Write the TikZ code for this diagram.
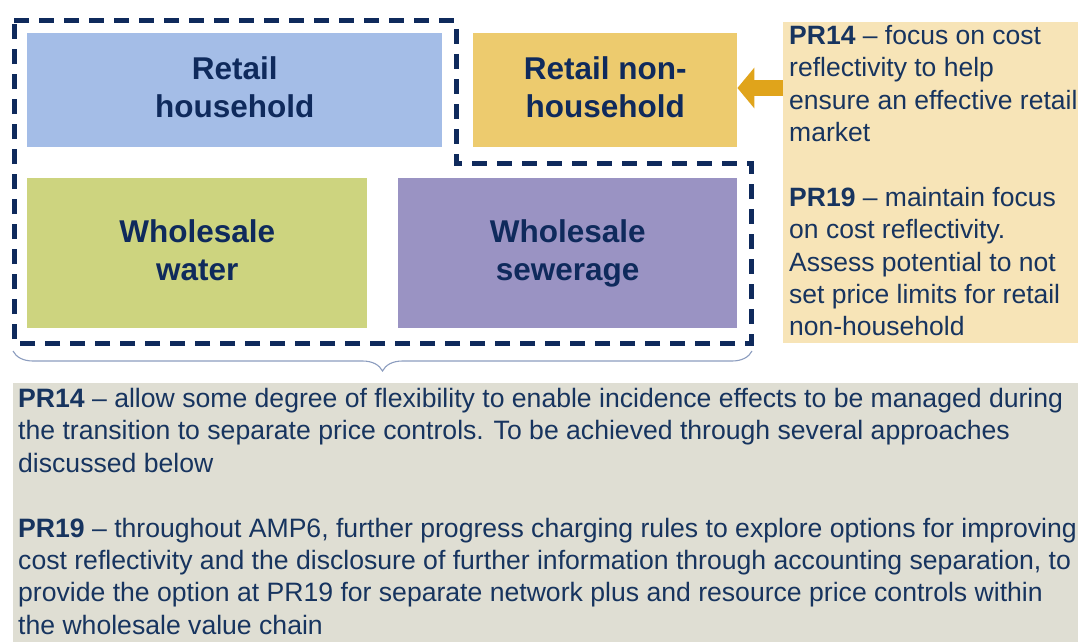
\documentclass[tikz,border=0pt]{standalone}
\usepackage{fontspec}
\setmainfont{Liberation Sans}
\usetikzlibrary{decorations.pathreplacing,arrows.meta}
\definecolor{navy}{HTML}{0F2A5C}
\definecolor{txtnavy}{HTML}{17345F}
\definecolor{rhhblue}{HTML}{A4BDE7}
\definecolor{rnhgold}{HTML}{EDCB6E}
\definecolor{wwgreen}{HTML}{CDD47F}
\definecolor{wspurple}{HTML}{9A93C3}
\definecolor{wheatbox}{HTML}{F7E4B7}
\definecolor{greybox}{HTML}{DFDED3}
\definecolor{arrowgold}{HTML}{E0A41B}
\definecolor{bracecol}{HTML}{8C9DBF}
\newcommand{\lowpad}{\rule[-5.5pt]{0pt}{0pt}}
\begin{document}
\begin{tikzpicture}[x=1pt,y=-1pt,
  seg/.style={anchor=north west, inner sep=0pt, draw=none, align=center,
    text=navy, font=\fontsize{31.5}{38}\selectfont\bfseries},
  panel/.style={anchor=north west, inner sep=0pt, draw=none},
  bodytext/.style={anchor=north west, inner sep=0pt, align=left, text=txtnavy,
    font=\fontsize{26.5}{32.4}\selectfont},
  outline/.style={draw=navy, line width=5pt, dash pattern=on 15pt off 10pt},
  pointer/.style={draw=arrowgold, line width=16pt, -{Triangle[width=40pt,length=17pt]}},
  bracestyle/.style={draw=bracecol, line width=1.1pt,
    decorate, decoration={brace, mirror, amplitude=20pt}}
]
\useasboundingbox (0,0) rectangle (1078,642);
\fill[white] (0,0) rectangle (1078,642);

% segment boxes
\node[seg, fill=rhhblue, minimum width=415pt, minimum height=114pt] (rhh) at (27,33) {Retail\\household\lowpad};
\node[seg, fill=rnhgold, minimum width=264pt, minimum height=114pt] (rnh) at (473,33) {Retail non-\\household\lowpad};
\node[seg, fill=wwgreen, minimum width=340pt, minimum height=150pt] (ww) at (27,178) {Wholesale\\water\lowpad};
\node[seg, fill=wspurple, minimum width=339pt, minimum height=150pt] (ws) at (398,178) {Wholesale\\sewerage};

% dashed outline
\draw[outline] (14,21) -- (456,21) -- (456,163) -- (751,163) -- (751,343) -- (14,343) -- cycle;

% right text panel
\node[panel, fill=wheatbox, minimum width=295pt, minimum height=321pt] (rbox) at (783,22) {};
\node[bodytext] (rtext) at (789,25) {\textbf{PR14} -- focus on cost\\reflectivity to help\\ensure an effective retail\\market\\[32.4pt]\textbf{PR19} -- maintain focus\\on cost reflectivity.\\Assess potential to not\\set price limits for retail\\non-household};

% arrow
\coordinate (arrstart) at (783,88);
\draw[pointer] (arrstart) -- (rnh.east |- arrstart);

% brace
\coordinate (bl) at (13,351);
\coordinate (br) at (752,351);
\draw[bracestyle] (bl) -- (br);

% bottom panel
\node[panel, fill=greybox, minimum width=1065pt, minimum height=259pt] (bbox) at (13,383) {};
\node[bodytext, font=\fontsize{26.6}{32.4}\selectfont] (btext) at (18,388) {\textbf{PR14} -- allow some degree of flexibility to enable incidence effects to be managed during\\the transition to separate price controls. To be achieved through several approaches\\discussed below\\[32.4pt]\textbf{PR19} -- throughout AMP6, further progress charging rules to explore options for improving\\cost reflectivity and the disclosure of further information through accounting separation, to\\provide the option at PR19 for separate network plus and resource price controls within\\the wholesale value chain};
\end{tikzpicture}
\end{document}
